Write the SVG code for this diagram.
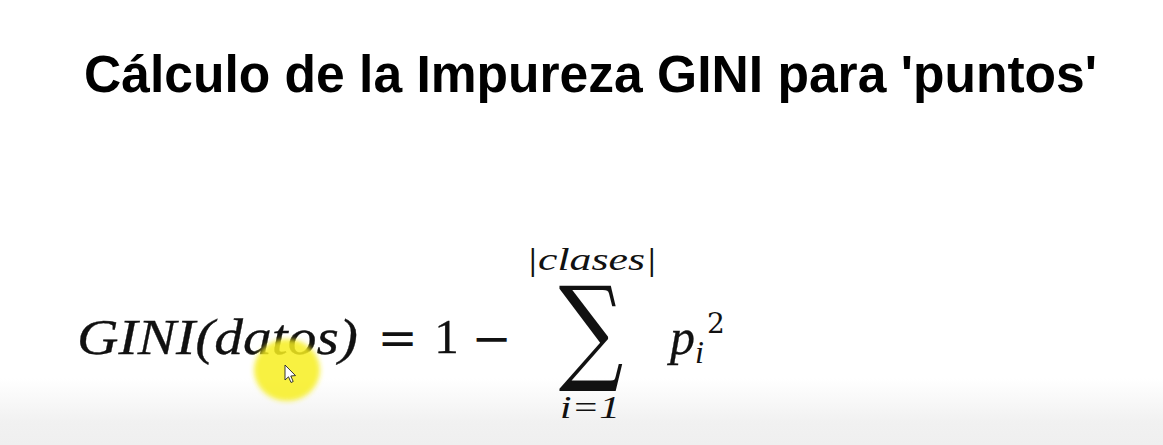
<svg xmlns="http://www.w3.org/2000/svg" width="1163" height="445" viewBox="0 0 1163 445">
<style>
.title{font-family:"Liberation Sans",Arial,sans-serif;font-weight:bold;font-size:51px;fill:#000}
.mi{font-family:"Liberation Serif","DejaVu Serif",serif;font-style:italic;fill:#111;stroke:#111;stroke-width:0.3}
.ms{font-family:"Liberation Serif","DejaVu Serif",serif;font-style:italic;fill:#111}
.mu{font-family:"Liberation Serif","DejaVu Serif",serif;font-style:normal;fill:#111;stroke:#111;stroke-width:0.3}
.op{font-family:"DejaVu Serif","Liberation Serif",serif;font-style:normal;fill:#111}
.sig{font-family:"DejaVu Serif","Liberation Serif",serif;font-style:normal;fill:#111}
</style>
<defs>
<linearGradient id="bg" x1="0" y1="0" x2="0" y2="1">
<stop offset="0" stop-color="#ffffff"/>
<stop offset="0.85" stop-color="#ffffff"/>
<stop offset="0.95" stop-color="#f1f1f1"/>
<stop offset="1" stop-color="#efefef"/>
</linearGradient>
<filter id="blur" x="-30%" y="-30%" width="160%" height="160%"><feGaussianBlur stdDeviation="2.5"/></filter>
</defs>
<rect x="0" y="0" width="1163" height="445" fill="url(#bg)"/>
<g id="title">
<text class="title" x="84" y="92" textLength="1013" lengthAdjust="spacingAndGlyphs">Cálculo de la Impureza GINI para 'puntos'</text>
</g>
<g id="formula">
<text class="mi" x="77" y="354" font-size="50" textLength="281" lengthAdjust="spacingAndGlyphs">GINI(datos)</text>
<text class="op" x="397.5" y="355" font-size="48" text-anchor="middle">=</text>
<text class="mu" x="446.5" y="353" font-size="49" text-anchor="middle">1</text>
<text class="op" x="491.5" y="355" font-size="48" text-anchor="middle">−</text>
<text class="ms" x="526" y="270" font-size="32" textLength="131" lengthAdjust="spacingAndGlyphs">|clases|</text>
<text class="sig" transform="translate(591,369) scale(0.78,1)" x="0" y="0" font-size="116" text-anchor="middle">∑</text>
<text class="ms" x="560" y="418" font-size="32" textLength="60" lengthAdjust="spacingAndGlyphs">i=1</text>
<text class="mi" x="670" y="354" font-size="50">p</text>
<text class="ms" x="695" y="363" font-size="32">i</text>
<text class="op" x="707" y="333" font-size="28">2</text>
</g>
<g id="pointer">
<ellipse cx="287" cy="370" rx="33" ry="31" fill="#f7ef1e" fill-opacity="0.85" filter="url(#blur)"/>
<path d="M285 365 L285 380 L288.5 376.8 L291 382.5 L293.2 381.5 L290.8 376 L295.5 375.6 Z" fill="#fff" stroke="#222" stroke-width="0.9" stroke-linejoin="round"/>
</g>
</svg>
